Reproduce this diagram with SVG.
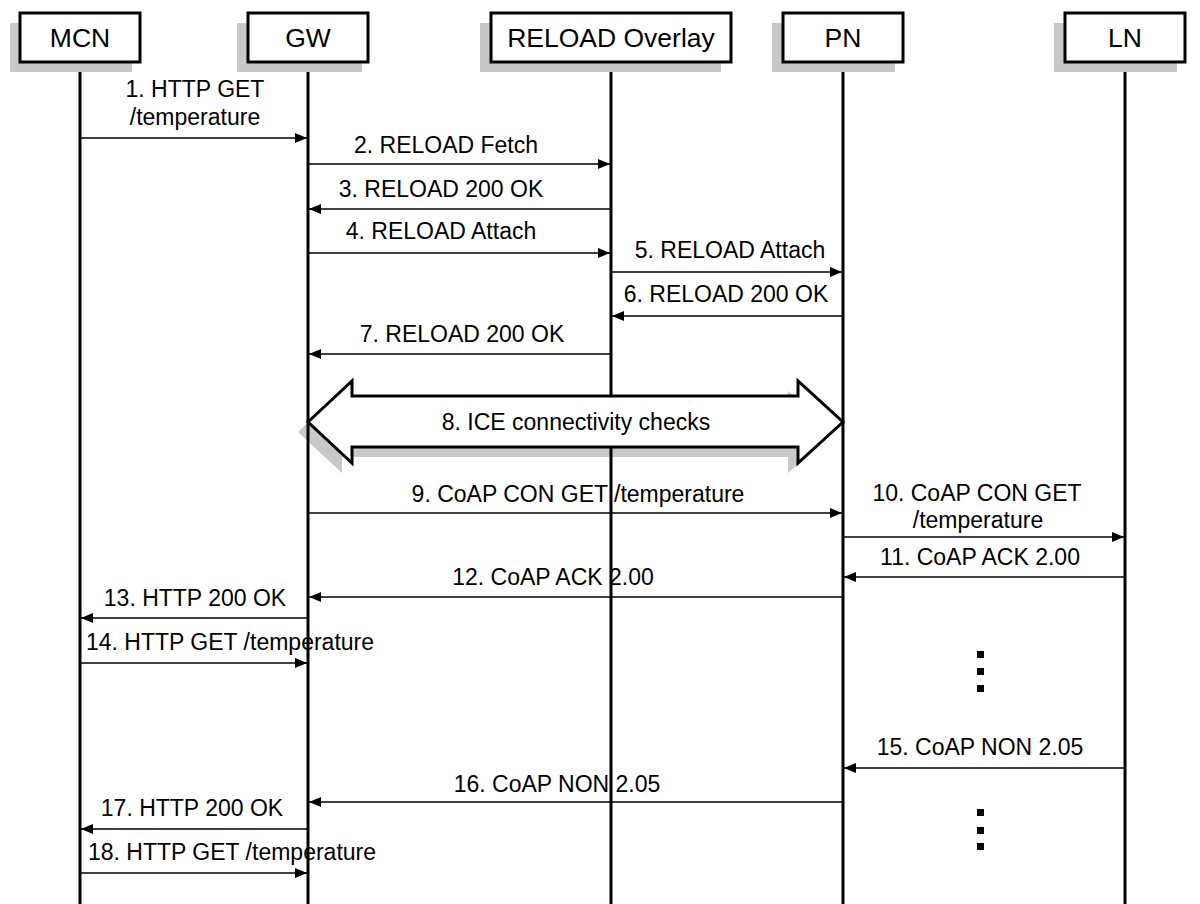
<svg xmlns="http://www.w3.org/2000/svg" width="1200" height="904" viewBox="0 0 1200 904">
<defs>
<style>
text{font-family:"Liberation Sans",Arial,Helvetica,sans-serif;fill:#000}
.hd{font-size:26.5px;text-anchor:middle}
.lb{font-size:23px;text-anchor:middle}
.box{fill:#fff;stroke:#000;stroke-width:3}
.sh{fill:#c8c8c8}
.life{stroke:#000;stroke-width:3}
.msg{stroke:#000;stroke-width:1.5;fill:none;marker-end:url(#ah)}
.dot{fill:#000}
</style>
<marker id="ah" viewBox="0 0 12 10" refX="12" refY="5" markerWidth="12" markerHeight="10" markerUnits="userSpaceOnUse" orient="auto">
<path d="M0,0 L12,5 L0,10 Z" fill="#000"/>
</marker>
</defs>
<rect width="1200" height="904" fill="#fff"/>

<g id="ice-shadow">
<polygon class="sh" points="298,432 342,391 342,406 788,406 788,391 833,432 788,473 788,457 342,457 342,473"/>
</g>

<g id="lifelines">
<line class="life" x1="80" y1="62" x2="80" y2="904"/>
<line class="life" x1="308" y1="62" x2="308" y2="904"/>
<line class="life" x1="611" y1="62" x2="611" y2="904"/>
<line class="life" x1="843" y1="62" x2="843" y2="904"/>
<line class="life" x1="1125" y1="62" x2="1125" y2="904"/>
</g>

<g id="MCN">
<rect class="sh" x="10" y="23" width="122" height="49"/>
<rect class="box" x="20" y="13" width="120" height="49"/>
<text class="hd" x="80" y="47">MCN</text>
</g>
<g id="GW">
<rect class="sh" x="237" y="23" width="125" height="49"/>
<rect class="box" x="248" y="13" width="120" height="49"/>
<text class="hd" x="308" y="47">GW</text>
</g>
<g id="RELOAD">
<rect class="sh" x="480" y="23" width="241" height="49"/>
<rect class="box" x="491" y="13" width="240" height="49"/>
<text class="hd" x="611" y="47">RELOAD Overlay</text>
</g>
<g id="PN">
<rect class="sh" x="772" y="23" width="123" height="49"/>
<rect class="box" x="783" y="13" width="120" height="49"/>
<text class="hd" x="843" y="47">PN</text>
</g>
<g id="LN">
<rect class="sh" x="1054" y="23" width="123" height="49"/>
<rect class="box" x="1065" y="13" width="120" height="49"/>
<text class="hd" x="1125" y="47">LN</text>
</g>

<g id="ice">
<polygon fill="#fff" stroke="#000" stroke-width="3" stroke-linejoin="miter" points="308,422 352,381 352,396 798,396 798,381 843,422 798,463 798,447 352,447 352,463"/>
<text class="lb" x="576" y="430">8. ICE connectivity checks</text>
</g>

<g id="connectors">
<line class="msg" x1="81" y1="138" x2="307" y2="138"/>
<line class="msg" x1="309" y1="164" x2="610" y2="164"/>
<line class="msg" x1="610" y1="209" x2="309" y2="209"/>
<line class="msg" x1="309" y1="253" x2="610" y2="253"/>
<line class="msg" x1="612" y1="272" x2="842" y2="272"/>
<line class="msg" x1="842" y1="316" x2="612" y2="316"/>
<line class="msg" x1="610" y1="354" x2="309" y2="354"/>
<line class="msg" x1="309" y1="513" x2="842" y2="513"/>
<line class="msg" x1="844" y1="537" x2="1124" y2="537"/>
<line class="msg" x1="1124" y1="577" x2="844" y2="577"/>
<line class="msg" x1="842" y1="597" x2="309" y2="597"/>
<line class="msg" x1="307" y1="618" x2="81" y2="618"/>
<line class="msg" x1="81" y1="663" x2="307" y2="663"/>
<line class="msg" x1="1124" y1="768" x2="844" y2="768"/>
<line class="msg" x1="842" y1="802" x2="309" y2="802"/>
<line class="msg" x1="307" y1="829" x2="81" y2="829"/>
<line class="msg" x1="81" y1="873" x2="307" y2="873"/>
</g>

<g id="labels">
<text class="lb" x="195" y="97">1. HTTP GET</text>
<text class="lb" x="195" y="125">/temperature</text>
<text class="lb" x="446" y="153">2. RELOAD Fetch</text>
<text class="lb" x="441" y="197">3. RELOAD 200 OK</text>
<text class="lb" x="441" y="239">4. RELOAD Attach</text>
<text class="lb" x="730" y="258">5. RELOAD Attach</text>
<text class="lb" x="726" y="302">6. RELOAD 200 OK</text>
<text class="lb" x="462" y="342">7. RELOAD 200 OK</text>
<text class="lb" x="578" y="502">9. CoAP CON GET /temperature</text>
<text class="lb" x="977" y="501">10. CoAP CON GET</text>
<text class="lb" x="978" y="528">/temperature</text>
<text class="lb" x="980" y="565">11. CoAP ACK 2.00</text>
<text class="lb" x="553" y="585">12. CoAP ACK 2.00</text>
<text class="lb" x="195" y="606">13. HTTP 200 OK</text>
<text class="lb" x="230" y="650">14. HTTP GET /temperature</text>
<text class="lb" x="980" y="755">15. CoAP NON 2.05</text>
<text class="lb" x="557" y="792">16. CoAP NON 2.05</text>
<text class="lb" x="192" y="816">17. HTTP 200 OK</text>
<text class="lb" x="232" y="860">18. HTTP GET /temperature</text>
</g>

<g id="ellipsis">
<rect class="dot" x="977" y="651" width="7" height="7"/>
<rect class="dot" x="977" y="668" width="7" height="7"/>
<rect class="dot" x="977" y="685" width="7" height="7"/>
<rect class="dot" x="977" y="809" width="7" height="7"/>
<rect class="dot" x="977" y="827" width="7" height="7"/>
<rect class="dot" x="977" y="843" width="7" height="7"/>
</g>
</svg>
